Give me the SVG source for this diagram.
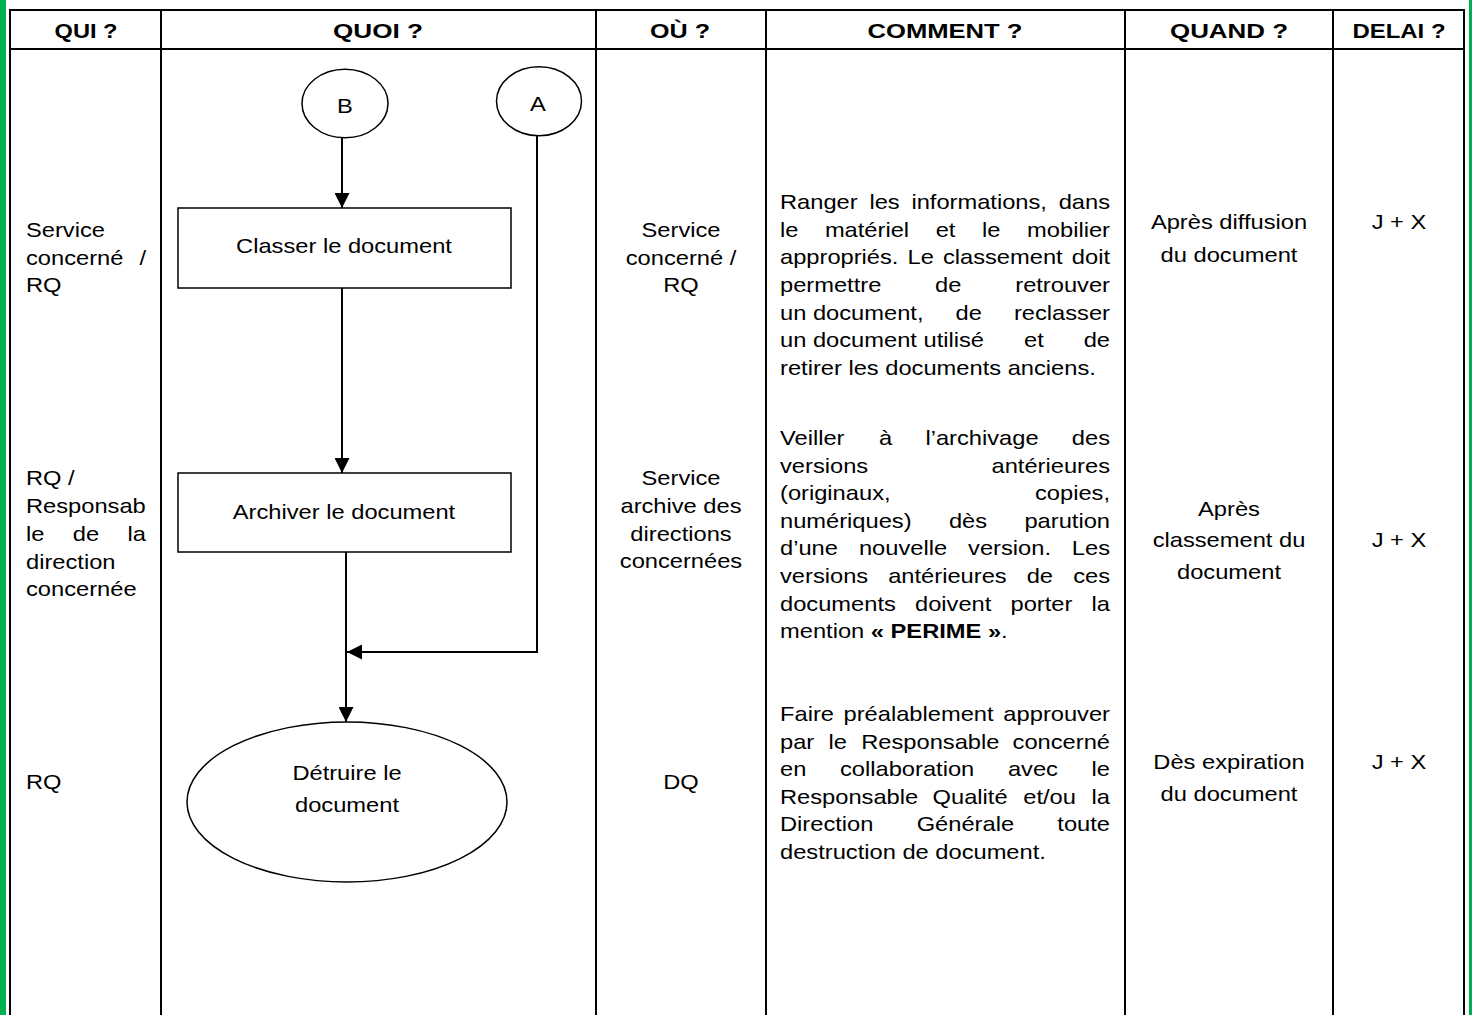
<svg xmlns="http://www.w3.org/2000/svg" width="1472" height="1015" viewBox="0 0 1472 1015">
<style>
.t{font-family:"Liberation Sans",Arial,sans-serif;font-size:20px;fill:#000}
.h{font-family:"Liberation Sans",Arial,sans-serif;font-size:21px;font-weight:bold;fill:#000;text-anchor:middle}
.e{text-anchor:end}
.m{text-anchor:middle}
.grid{stroke:#000;stroke-width:2;fill:none}
.shape{stroke:#000;stroke-width:1.5;fill:#fff}
.conn{stroke:#000;stroke-width:2;fill:none}
</style>
<defs>
<marker id="arr" viewBox="0 0 15 15" refX="15" refY="7.5" markerWidth="15" markerHeight="15" markerUnits="userSpaceOnUse" orient="auto">
<path d="M0,0 L15,7.5 L0,15 z" fill="#000"/>
</marker>
</defs>
<rect width="1472" height="1015" fill="#fff"/>
<g id="borders">
<rect x="0" y="0" width="6" height="1015" fill="#00B050"/>
<rect x="1469" y="0" width="3" height="1015" fill="#00B050"/>
</g>
<g id="table" class="grid">
<line x1="9" y1="10" x2="1465" y2="10"/>
<line x1="9" y1="49" x2="1465" y2="49"/>
<line x1="10" y1="9" x2="10" y2="1015"/>
<line x1="161" y1="9" x2="161" y2="1015"/>
<line x1="596" y1="9" x2="596" y2="1015"/>
<line x1="766" y1="9" x2="766" y2="1015"/>
<line x1="1125" y1="9" x2="1125" y2="1015"/>
<line x1="1333" y1="9" x2="1333" y2="1015"/>
<line x1="1464" y1="9" x2="1464" y2="1015"/>
</g>
<g id="headers">
<text class="h" x="86" y="38" textLength="63" lengthAdjust="spacingAndGlyphs">QUI ?</text>
<text class="h" x="378" y="38" textLength="90" lengthAdjust="spacingAndGlyphs">QUOI ?</text>
<text class="h" x="680" y="38" textLength="60" lengthAdjust="spacingAndGlyphs">OÙ ?</text>
<text class="h" x="945" y="38" textLength="155" lengthAdjust="spacingAndGlyphs">COMMENT ?</text>
<text class="h" x="1229" y="38" textLength="118" lengthAdjust="spacingAndGlyphs">QUAND ?</text>
<text class="h" x="1399" y="38" textLength="93" lengthAdjust="spacingAndGlyphs">DELAI ?</text>
</g>
<g id="connectors">
<line class="conn" x1="342" y1="138" x2="342" y2="208" marker-end="url(#arr)"/>
<line class="conn" x1="342" y1="288" x2="342" y2="473" marker-end="url(#arr)"/>
<line class="conn" x1="346" y1="552" x2="346" y2="722" marker-end="url(#arr)"/>
<polyline class="conn" points="537,136 537,652 347,652" marker-end="url(#arr)"/>
</g>
<g id="node-B">
<ellipse class="shape" cx="345" cy="103.5" rx="43" ry="34.3"/>
<text class="t m" transform="matrix(1.185 0 0 1 345 113)">B</text>
</g>
<g id="node-A">
<ellipse class="shape" cx="539" cy="101.2" rx="42.5" ry="34.5"/>
<text class="t m" transform="matrix(1.185 0 0 1 538 111)">A</text>
</g>
<g id="node-classer">
<rect class="shape" x="178" y="208" width="333" height="80"/>
<text class="t m" transform="matrix(1.185 0 0 1 344 253)">Classer le document</text>
</g>
<g id="node-archiver">
<rect class="shape" x="178" y="473" width="333" height="79"/>
<text class="t m" transform="matrix(1.185 0 0 1 344 519)">Archiver le document</text>
</g>
<g id="node-detruire">
<ellipse class="shape" cx="347" cy="802" rx="160" ry="80"/>
<text class="t m" transform="matrix(1.185 0 0 1 347 780)">Détruire le</text>
<text class="t m" transform="matrix(1.185 0 0 1 347 812)">document</text>
</g>
<g id="col-qui">
<text class="t" transform="matrix(1.185 0 0 1 26 237)">Service</text>
<text class="t" transform="matrix(1.185 0 0 1 26 264.6)">concerné</text>
<text class="t e" transform="matrix(1.185 0 0 1 146 264.6)">/</text>
<text class="t" transform="matrix(1.185 0 0 1 26 292)">RQ</text>
<text class="t" transform="matrix(1.185 0 0 1 26 485)">RQ /</text>
<text class="t" transform="matrix(1.185 0 0 1 26 513)">Responsab</text>
<text class="t" transform="matrix(1.185 0 0 1 26 541)">le</text>
<text class="t" transform="matrix(1.185 0 0 1 72.8 541)">de</text>
<text class="t e" transform="matrix(1.185 0 0 1 146 541)">la</text>
<text class="t" transform="matrix(1.185 0 0 1 26 568.5)">direction</text>
<text class="t" transform="matrix(1.185 0 0 1 26 596)">concernée</text>
<text class="t" transform="matrix(1.185 0 0 1 26 789)">RQ</text>
</g>
<g id="col-ou">
<text class="t m" transform="matrix(1.185 0 0 1 681 237)">Service</text>
<text class="t m" transform="matrix(1.185 0 0 1 681 264.6)">concerné /</text>
<text class="t m" transform="matrix(1.185 0 0 1 681 292)">RQ</text>
<text class="t m" transform="matrix(1.185 0 0 1 681 485)">Service</text>
<text class="t m" transform="matrix(1.185 0 0 1 681 513)">archive des</text>
<text class="t m" transform="matrix(1.185 0 0 1 681 541)">directions</text>
<text class="t m" transform="matrix(1.185 0 0 1 681 568)">concernées</text>
<text class="t m" transform="matrix(1.185 0 0 1 681 789)">DQ</text>
</g>
<g id="col-comment">
<text class="t" transform="matrix(1.185 0 0 1 780 209)">Ranger</text>
<text class="t" transform="matrix(1.185 0 0 1 869.4 209)">les</text>
<text class="t" transform="matrix(1.185 0 0 1 911.4 209)">informations,</text>
<text class="t e" transform="matrix(1.185 0 0 1 1110 209)">dans</text>
<text class="t" transform="matrix(1.185 0 0 1 780 236.7)">le</text>
<text class="t" transform="matrix(1.185 0 0 1 824.9 236.7)">matériel</text>
<text class="t" transform="matrix(1.185 0 0 1 935.7 236.7)">et</text>
<text class="t" transform="matrix(1.185 0 0 1 982 236.7)">le</text>
<text class="t e" transform="matrix(1.185 0 0 1 1110 236.7)">mobilier</text>
<text class="t" transform="matrix(1.185 0 0 1 780 264.3)">appropriés.</text>
<text class="t" transform="matrix(1.185 0 0 1 907.5 264.3)">Le</text>
<text class="t" transform="matrix(1.185 0 0 1 942.9 264.3)">classement</text>
<text class="t e" transform="matrix(1.185 0 0 1 1110 264.3)">doit</text>
<text class="t" transform="matrix(1.185 0 0 1 780 292)">permettre</text>
<text class="t" transform="matrix(1.185 0 0 1 935.1 292)">de</text>
<text class="t e" transform="matrix(1.185 0 0 1 1110 292)">retrouver</text>
<text class="t" transform="matrix(1.185 0 0 1 780 319.7)">un document,</text>
<text class="t" transform="matrix(1.185 0 0 1 955.6 319.7)">de</text>
<text class="t e" transform="matrix(1.185 0 0 1 1110 319.7)">reclasser</text>
<text class="t" transform="matrix(1.185 0 0 1 780 347.3)">un document utilisé</text>
<text class="t" transform="matrix(1.185 0 0 1 1024 347.3)">et</text>
<text class="t e" transform="matrix(1.185 0 0 1 1110 347.3)">de</text>
<text class="t" transform="matrix(1.185 0 0 1 780 375)">retirer les documents anciens.</text>

<text class="t" transform="matrix(1.185 0 0 1 780 445)">Veiller</text>
<text class="t" transform="matrix(1.185 0 0 1 879 445)">à</text>
<text class="t" transform="matrix(1.185 0 0 1 925.4 445)">l’archivage</text>
<text class="t e" transform="matrix(1.185 0 0 1 1110 445)">des</text>
<text class="t" transform="matrix(1.185 0 0 1 780 472.6)">versions</text>
<text class="t e" transform="matrix(1.185 0 0 1 1110 472.6)">antérieures</text>
<text class="t" transform="matrix(1.185 0 0 1 780 500.2)">(originaux,</text>
<text class="t e" transform="matrix(1.185 0 0 1 1110 500.2)">copies,</text>
<text class="t" transform="matrix(1.185 0 0 1 780 527.8)">numériques)</text>
<text class="t" transform="matrix(1.185 0 0 1 948.9 527.8)">dès</text>
<text class="t e" transform="matrix(1.185 0 0 1 1110 527.8)">parution</text>
<text class="t" transform="matrix(1.185 0 0 1 780 555.4)">d’une</text>
<text class="t" transform="matrix(1.185 0 0 1 858.9 555.4)">nouvelle</text>
<text class="t" transform="matrix(1.185 0 0 1 968.1 555.4)">version.</text>
<text class="t e" transform="matrix(1.185 0 0 1 1110 555.4)">Les</text>
<text class="t" transform="matrix(1.185 0 0 1 780 583)">versions</text>
<text class="t" transform="matrix(1.185 0 0 1 888.2 583)">antérieures</text>
<text class="t" transform="matrix(1.185 0 0 1 1026.7 583)">de</text>
<text class="t e" transform="matrix(1.185 0 0 1 1110 583)">ces</text>
<text class="t" transform="matrix(1.185 0 0 1 780 610.6)">documents</text>
<text class="t" transform="matrix(1.185 0 0 1 915 610.6)">doivent</text>
<text class="t" transform="matrix(1.185 0 0 1 1010.5 610.6)">porter</text>
<text class="t e" transform="matrix(1.185 0 0 1 1110 610.6)">la</text>
<text class="t" transform="matrix(1.185 0 0 1 780 638.2)">mention <tspan font-weight="bold">« PERIME »</tspan>.</text>

<text class="t" transform="matrix(1.185 0 0 1 780 721)">Faire</text>
<text class="t" transform="matrix(1.185 0 0 1 843.5 721)">préalablement</text>
<text class="t e" transform="matrix(1.185 0 0 1 1110 721)">approuver</text>
<text class="t" transform="matrix(1.185 0 0 1 780 748.6)">par</text>
<text class="t" transform="matrix(1.185 0 0 1 828.5 748.6)">le</text>
<text class="t" transform="matrix(1.185 0 0 1 861.2 748.6)">Responsable</text>
<text class="t e" transform="matrix(1.185 0 0 1 1110 748.6)">concerné</text>
<text class="t" transform="matrix(1.185 0 0 1 780 776.2)">en</text>
<text class="t" transform="matrix(1.185 0 0 1 840 776.2)">collaboration</text>
<text class="t" transform="matrix(1.185 0 0 1 1007.9 776.2)">avec</text>
<text class="t e" transform="matrix(1.185 0 0 1 1110 776.2)">le</text>
<text class="t" transform="matrix(1.185 0 0 1 780 803.8)">Responsable</text>
<text class="t" transform="matrix(1.185 0 0 1 932.6 803.8)">Qualité</text>
<text class="t" transform="matrix(1.185 0 0 1 1023.3 803.8)">et/ou</text>
<text class="t e" transform="matrix(1.185 0 0 1 1110 803.8)">la</text>
<text class="t" transform="matrix(1.185 0 0 1 780 831.4)">Direction</text>
<text class="t" transform="matrix(1.185 0 0 1 916.7 831.4)">Générale</text>
<text class="t e" transform="matrix(1.185 0 0 1 1110 831.4)">toute</text>
<text class="t" transform="matrix(1.185 0 0 1 780 859)">destruction de document.</text>
</g>
<g id="col-quand">
<text class="t m" transform="matrix(1.185 0 0 1 1229 229)">Après diffusion</text>
<text class="t m" transform="matrix(1.185 0 0 1 1229 262)">du document</text>
<text class="t m" transform="matrix(1.185 0 0 1 1229 516)">Après</text>
<text class="t m" transform="matrix(1.185 0 0 1 1229 547)">classement du</text>
<text class="t m" transform="matrix(1.185 0 0 1 1229 579)">document</text>
<text class="t m" transform="matrix(1.185 0 0 1 1229 769)">Dès expiration</text>
<text class="t m" transform="matrix(1.185 0 0 1 1229 801)">du document</text>
</g>
<g id="col-delai">
<text class="t m" transform="matrix(1.185 0 0 1 1399 229)">J + X</text>
<text class="t m" transform="matrix(1.185 0 0 1 1399 547)">J + X</text>
<text class="t m" transform="matrix(1.185 0 0 1 1399 769)">J + X</text>
</g>
</svg>
